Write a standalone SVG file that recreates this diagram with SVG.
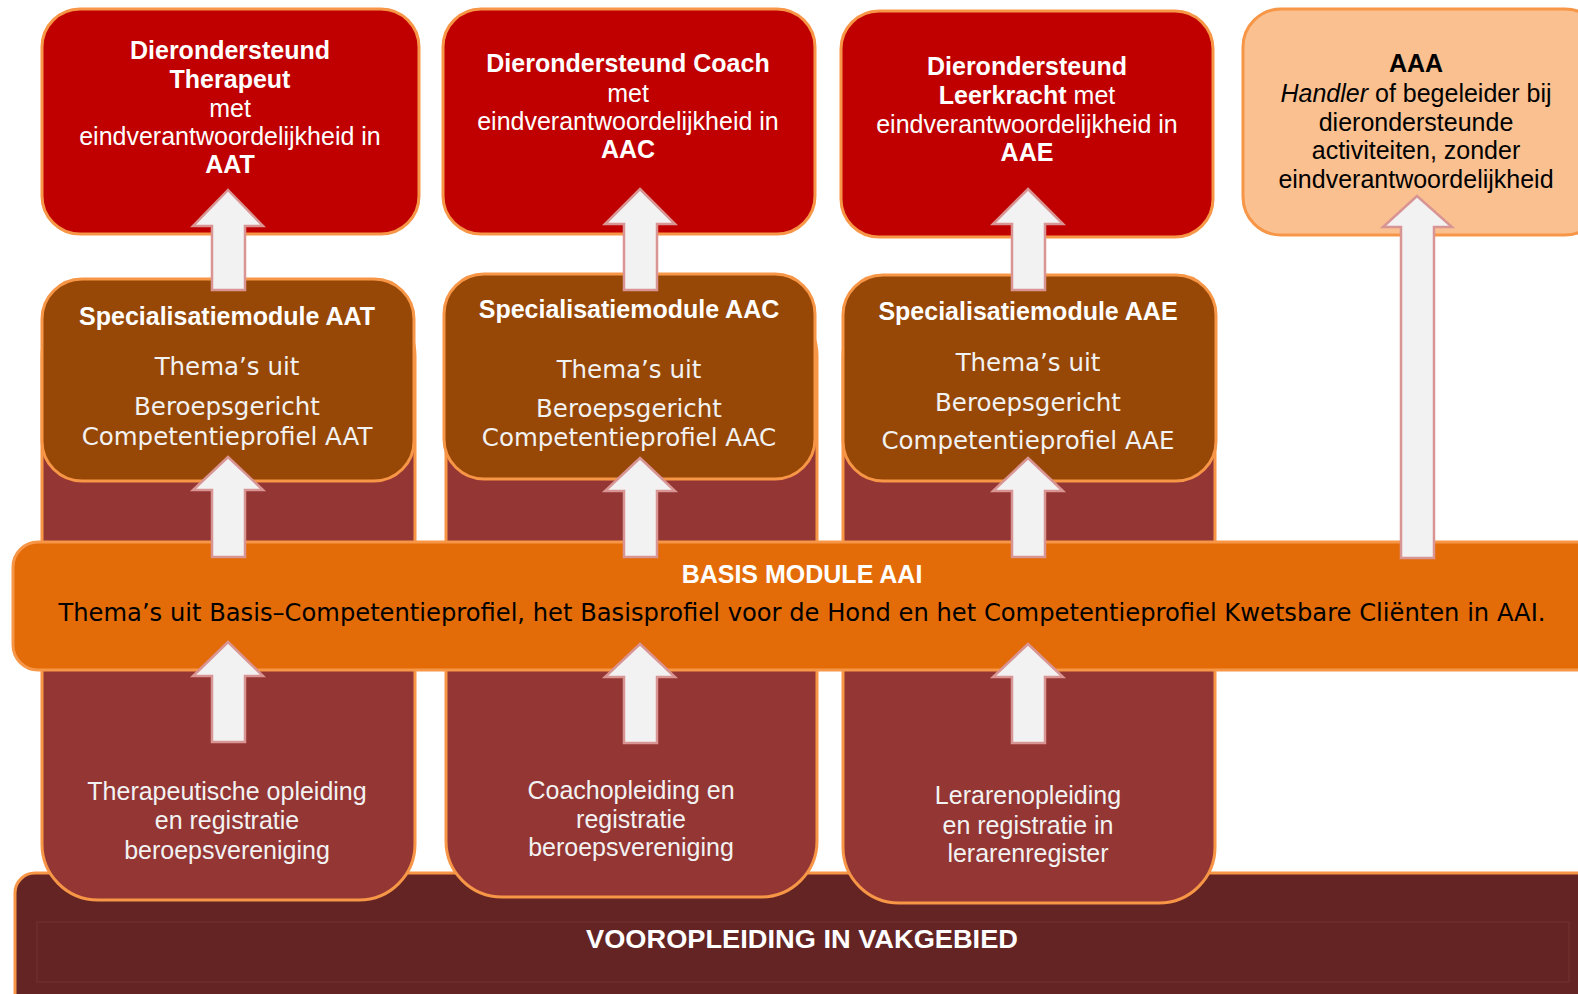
<svg xmlns="http://www.w3.org/2000/svg" width="1578" height="994" viewBox="0 0 1578 994">
<style>
.red{fill:#C00000;stroke:#F79646;stroke-width:3}
.aaa{fill:#FAC090;stroke:#F79646;stroke-width:3}
.brown{fill:#984806;stroke:#F79646;stroke-width:3}
.col{fill:#943634;stroke:#F79646;stroke-width:3}
.band{fill:#E36C09;stroke:#F79646;stroke-width:3}
.base{fill:#632423;stroke:#F79646;stroke-width:3}
.arrow{fill:#F2F2F2;stroke:#D99594;stroke-width:2.5;stroke-linejoin:miter}
.a{font-family:"Liberation Sans",Arial,sans-serif;font-size:25px;text-anchor:middle}
.d{font-family:"DejaVu Sans","Liberation Sans",sans-serif;font-size:24.5px;text-anchor:middle}
.w{fill:#FFFFFF}
.lw{fill:#F2F2F2}
.k{fill:#000000}
.b{font-weight:bold}
</style>
<rect width="1578" height="994" fill="#FFFFFF"/>

<g id="vooropleiding">
<rect class="base" x="15" y="873" width="1585" height="150" rx="20"/>
<rect x="37" y="922" width="1532" height="60" fill="none" stroke="#6E2E2C" stroke-width="1.5"/>
<text class="a b w" x="802" y="948" font-size="27" textLength="432" lengthAdjust="spacingAndGlyphs">VOOROPLEIDING IN VAKGEBIED</text>
</g>

<g id="col-aat">
<rect class="col" x="42" y="300" width="373" height="600" rx="56"/>
<text class="a lw" x="227" y="800">Therapeutische opleiding</text>
<text class="a lw" x="227" y="829">en registratie</text>
<text class="a lw" x="227" y="859">beroepsvereniging</text>
</g>
<g id="col-aac">
<rect class="col" x="446" y="300" width="371" height="597" rx="56"/>
<text class="a lw" x="631" y="799">Coachopleiding en</text>
<text class="a lw" x="631" y="828">registratie</text>
<text class="a lw" x="631" y="856">beroepsvereniging</text>
</g>
<g id="col-aae">
<rect class="col" x="843" y="300" width="372" height="603" rx="56"/>
<text class="a lw" x="1028" y="804">Lerarenopleiding</text>
<text class="a lw" x="1028" y="834">en registratie in</text>
<text class="a lw" x="1028" y="862">lerarenregister</text>
</g>

<g id="spec-aat">
<rect class="brown" x="42" y="279" width="372" height="202" rx="40"/>
<text class="a b w" x="227" y="325">Specialisatiemodule AAT</text>
<text class="d lw" x="227" y="375">Thema’s uit</text>
<text class="d lw" x="227" y="415">Beroepsgericht</text>
<text class="d lw" x="227" y="445">Competentieprofiel AAT</text>
</g>
<g id="spec-aac">
<rect class="brown" x="444" y="274" width="371" height="205" rx="40"/>
<text class="a b w" x="629" y="318">Specialisatiemodule AAC</text>
<text class="d lw" x="629" y="378">Thema’s uit</text>
<text class="d lw" x="629" y="417">Beroepsgericht</text>
<text class="d lw" x="629" y="446">Competentieprofiel AAC</text>
</g>
<g id="spec-aae">
<rect class="brown" x="843" y="275" width="373" height="206" rx="40"/>
<text class="a b w" x="1028" y="320">Specialisatiemodule AAE</text>
<text class="d lw" x="1028" y="371">Thema’s uit</text>
<text class="d lw" x="1028" y="411">Beroepsgericht</text>
<text class="d lw" x="1028" y="449">Competentieprofiel AAE</text>
</g>

<g id="basis-module">
<rect class="band" x="13" y="542" width="1590" height="128" rx="25"/>
<text class="a b w" x="802" y="583">BASIS MODULE AAI</text>
<text class="d k" x="802" y="621" textLength="1487" lengthAdjust="spacingAndGlyphs">Thema’s uit Basis–Competentieprofiel, het Basisprofiel voor de Hond en het Competentieprofiel Kwetsbare Cliënten in AAI.</text>
</g>

<g id="top-aat">
<rect class="red" x="42" y="9" width="377" height="225" rx="38"/>
<text class="a b w" x="230" y="59">Dierondersteund</text>
<text class="a b w" x="230" y="88">Therapeut</text>
<text class="a w" x="230" y="117">met</text>
<text class="a w" x="230" y="145">eindverantwoordelijkheid in</text>
<text class="a b w" x="230" y="173">AAT</text>
</g>
<g id="top-aac">
<rect class="red" x="443" y="9" width="372" height="225" rx="38"/>
<text class="a b w" x="628" y="72">Dierondersteund Coach</text>
<text class="a w" x="628" y="102">met</text>
<text class="a w" x="628" y="130">eindverantwoordelijkheid in</text>
<text class="a b w" x="628" y="158">AAC</text>
</g>
<g id="top-aae">
<rect class="red" x="841" y="11" width="372" height="226" rx="38"/>
<text class="a b w" x="1027" y="75">Dierondersteund</text>
<text class="a w" x="1027" y="104"><tspan class="b">Leerkracht</tspan> met</text>
<text class="a w" x="1027" y="133">eindverantwoordelijkheid in</text>
<text class="a b w" x="1027" y="161">AAE</text>
</g>
<g id="top-aaa">
<rect class="aaa" x="1243" y="9" width="360" height="226" rx="38"/>
<text class="a b k" x="1416" y="72">AAA</text>
<text class="a k" x="1416" y="102"><tspan font-style="italic">Handler</tspan> of begeleider bij</text>
<text class="a k" x="1416" y="131">dierondersteunde</text>
<text class="a k" x="1416" y="159">activiteiten, zonder</text>
<text class="a k" x="1416" y="188">eindverantwoordelijkheid</text>
</g>

<g id="connectors">
<path class="arrow" d="M228,190 L263,226 L245,226 L245,290 L212,290 L212,226 L193,226 Z"/>
<path class="arrow" d="M228,457 L263,490 L245,490 L245,557 L212,557 L212,490 L193,490 Z"/>
<path class="arrow" d="M228,642 L263,676 L245,676 L245,742 L212,742 L212,676 L193,676 Z"/>
<path class="arrow" d="M640,189 L675,224 L657,224 L657,290 L624,290 L624,224 L605,224 Z"/>
<path class="arrow" d="M640,458 L675,491 L657,491 L657,557 L624,557 L624,491 L605,491 Z"/>
<path class="arrow" d="M640,644 L675,677 L657,677 L657,743 L624,743 L624,677 L605,677 Z"/>
<path class="arrow" d="M1028,189 L1063,224 L1045,224 L1045,290 L1012,290 L1012,224 L993,224 Z"/>
<path class="arrow" d="M1028,458 L1063,491 L1045,491 L1045,557 L1012,557 L1012,491 L993,491 Z"/>
<path class="arrow" d="M1028,644 L1063,677 L1045,677 L1045,743 L1012,743 L1012,677 L993,677 Z"/>
<path class="arrow" d="M1417,196 L1452,227 L1434,227 L1434,558 L1401,558 L1401,227 L1383,227 Z"/>
</g>
</svg>
